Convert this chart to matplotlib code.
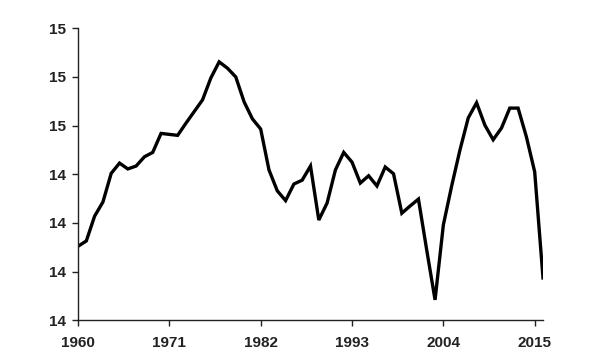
import matplotlib
matplotlib.use("Agg")
import matplotlib.pyplot as plt

years = list(range(1960, 2017))
values = [14.252, 14.263, 14.314, 14.343, 14.402, 14.423, 14.411, 14.417, 14.436, 14.445,
          14.484, 14.482, 14.480, 14.505, 14.529, 14.553, 14.598, 14.631, 14.618, 14.600,
          14.549, 14.514, 14.493, 14.409, 14.366, 14.346, 14.380, 14.388, 14.417, 14.306,
          14.341, 14.409, 14.445, 14.425, 14.382, 14.397, 14.376, 14.415, 14.401, 14.320,
          14.335, 14.349, 14.244, 14.142, 14.296, 14.376, 14.450, 14.516, 14.547, 14.501,
          14.471, 14.495, 14.536, 14.536, 14.477, 14.405, 14.187]

x_ticks = [1960, 1971, 1982, 1993, 2004, 2015]
y_ticks = [14.1, 14.2, 14.3, 14.4, 14.5, 14.6, 14.7]
y_tick_labels = ["14", "14", "14", "14", "15", "15", "15"]

plt.rcParams['font.family'] = ['Liberation Sans', 'DejaVu Sans']

fig = plt.figure(figsize=(6, 3.6), dpi=100)
ax = fig.add_axes([0.13, 0.1103, 0.775, 0.8111])
ax.plot(years, values, color='black', linewidth=2.4, solid_joinstyle='miter')

ax.set_xlim(1960, 2016)
ax.set_ylim(14.1, 14.7)
ax.set_xticks(x_ticks)
ax.set_yticks(y_ticks)
ax.set_yticklabels(y_tick_labels)

for s in ['top', 'right']:
    ax.spines[s].set_visible(False)
for s in ['left', 'bottom']:
    ax.spines[s].set_color('#222222')
    ax.spines[s].set_linewidth(1.0)

ax.tick_params(axis='both', direction='out', length=4, width=1, color='#222222',
               labelsize=11, labelcolor='#222222')
ax.tick_params(axis='y', pad=5)
ax.tick_params(axis='x', pad=7)
for lbl in ax.get_xticklabels() + ax.get_yticklabels():
    lbl.set_fontweight('bold')

fig.savefig('out.png', dpi=100)
